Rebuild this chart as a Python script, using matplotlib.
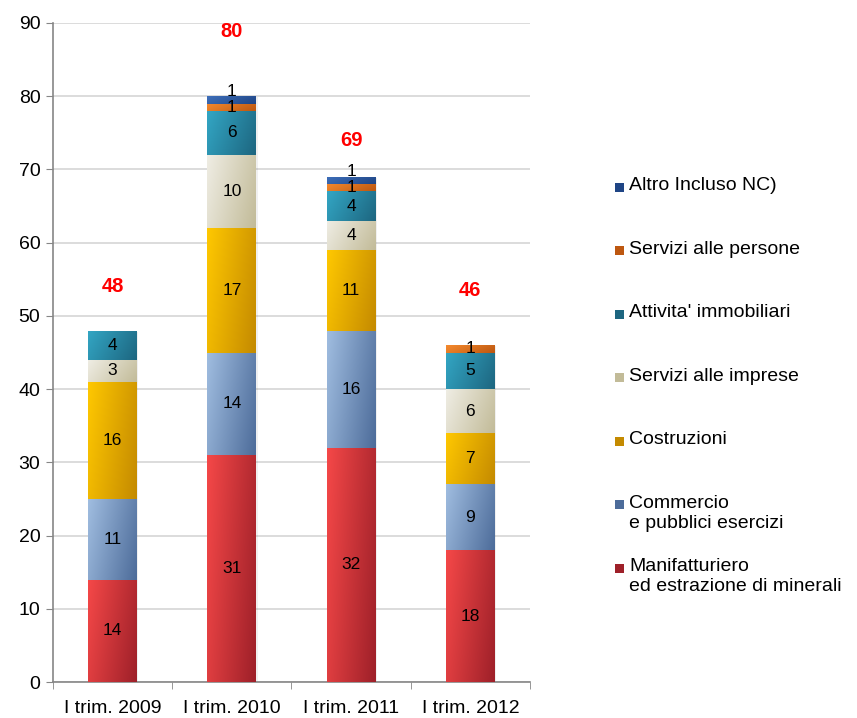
import numpy as np
import matplotlib
matplotlib.use("Agg")
import matplotlib.pyplot as plt
from matplotlib.colors import to_rgb
from matplotlib.patches import Rectangle

plt.rcParams['font.family'] = ['Liberation Sans', 'DejaVu Sans']

periodi = ['I trim. 2009', 'I trim. 2010', 'I trim. 2011', 'I trim. 2012']

settori = ['Manifatturiero\ned estrazione di minerali',
           'Commercio\ne pubblici esercizi',
           'Costruzioni',
           'Servizi alle imprese',
           "Attivita' immobiliari",
           'Servizi alle persone',
           'Altro Incluso NC)']

manifatturiero = [14, 31, 32, 18]
commercio = [11, 14, 16, 9]
costruzioni = [16, 17, 11, 7]
servizi_imprese = [3, 10, 4, 6]
immobiliari = [4, 6, 4, 5]
servizi_persone = [0, 1, 1, 1]
altro = [0, 1, 1, 0]
totali = [48, 80, 69, 46]

valori = [manifatturiero, commercio, costruzioni, servizi_imprese,
          immobiliari, servizi_persone, altro]

# colore chiaro / scuro per il gradiente di ogni settore
colori = [('#f54848', '#9e2029'),
          ('#a0bde0', '#4d6c9a'),
          ('#ffc800', '#c48a00'),
          ('#efede4', '#c2bb98'),
          ('#33a6c4', '#1d6680'),
          ('#f58a2e', '#bd5710'),
          ('#3e6fba', '#1f4585')]


def gradiente(c1, c2, n=64):
    xx, yy = np.meshgrid(np.linspace(0, 1, n), np.linspace(0, 1, n))
    t = (0.75 * xx + 0.25 * (1 - yy))[..., None]
    a, b = np.array(to_rgb(c1)), np.array(to_rgb(c2))
    return a * (1 - t) + b * t


fig = plt.figure(figsize=(8.57, 7.18), dpi=100)
ax = fig.add_axes([0.0618, 0.0501, 0.5566, 0.9179])

x = np.arange(len(periodi))
larghezza = 0.41
base = np.zeros(len(periodi))

for k, (serie, (c1, c2)) in enumerate(zip(valori, colori)):
    serie = np.array(serie, dtype=float)
    barre = ax.bar(x, serie, larghezza, bottom=base, color=c2, linewidth=0, zorder=3)
    img = gradiente(c1, c2)
    for b, v, y0 in zip(barre, serie, base):
        if v <= 0:
            continue
        # ombra leggera
        ax.add_patch(Rectangle((b.get_x() + 0.012, y0 - 0.15), b.get_width(), v,
                               facecolor='#000000', alpha=0.06, linewidth=0, zorder=2))
        im = ax.imshow(img, extent=[b.get_x(), b.get_x() + b.get_width(), y0, y0 + v],
                       origin='lower', aspect='auto', interpolation='bilinear', zorder=3.5)
        im.set_clip_path(b)
        # l'etichetta dell'ultimo settore sale un po' per non coprire quella sotto
        sposta = 1.2 if k == len(valori) - 1 else 0
        ax.text(b.get_x() + b.get_width() / 2, y0 + v / 2 + sposta, f'{int(v)}',
                ha='center', va='center', fontsize=12.5, color='black', zorder=5)
    base += serie

# altezza delle etichette dei totali sopra le colonne
scarto_tot = [6, 8.8, 5, 7.4]
for xi, tot, dy in zip(x, totali, scarto_tot):
    ax.text(xi, tot + dy, f'{tot}', ha='center', va='center', fontsize=14.5,
            fontweight='bold', color='#ff0000', zorder=5)

ax.set_xlim(-0.5, len(periodi) - 0.5)
ax.set_ylim(0, 90)
ax.set_yticks(range(0, 91, 10))
ax.set_xticks(x)
ax.set_xticklabels(periodi)
ax.set_xticks(np.arange(-0.5, len(periodi)), minor=True)
ax.tick_params(axis='x', which='major', length=0, labelsize=14, pad=13)
ax.tick_params(axis='x', which='minor', length=5, color='#868686', direction='out')
ax.tick_params(axis='y', length=5, color='#868686', labelsize=14, pad=4)
ax.grid(axis='y', color='#d9d9d9', linewidth=1.3, zorder=0)
ax.set_axisbelow(True)
for lato in ['top', 'right']:
    ax.spines[lato].set_visible(False)
for lato in ['left', 'bottom']:
    ax.spines[lato].set_color('#868686')
    ax.spines[lato].set_linewidth(1.2)

# legenda disegnata a mano, in ordine inverso
y_leg = 1 - 187 / 718
passo = 63.5 / 718
for i, (nome, (c1, c2)) in enumerate(zip(settori[::-1], colori[::-1])):
    yy = y_leg - i * passo
    fig.add_artist(Rectangle((615 / 857, yy - 4.5 / 718), 9 / 857, 9 / 718,
                             facecolor=c2, edgecolor='none', transform=fig.transFigure))
    fig.text(629 / 857, yy + 10 / 718, nome, ha='left', va='top', fontsize=14,
             linespacing=1.25)

fig.savefig('out.png', dpi=100, facecolor='white')
